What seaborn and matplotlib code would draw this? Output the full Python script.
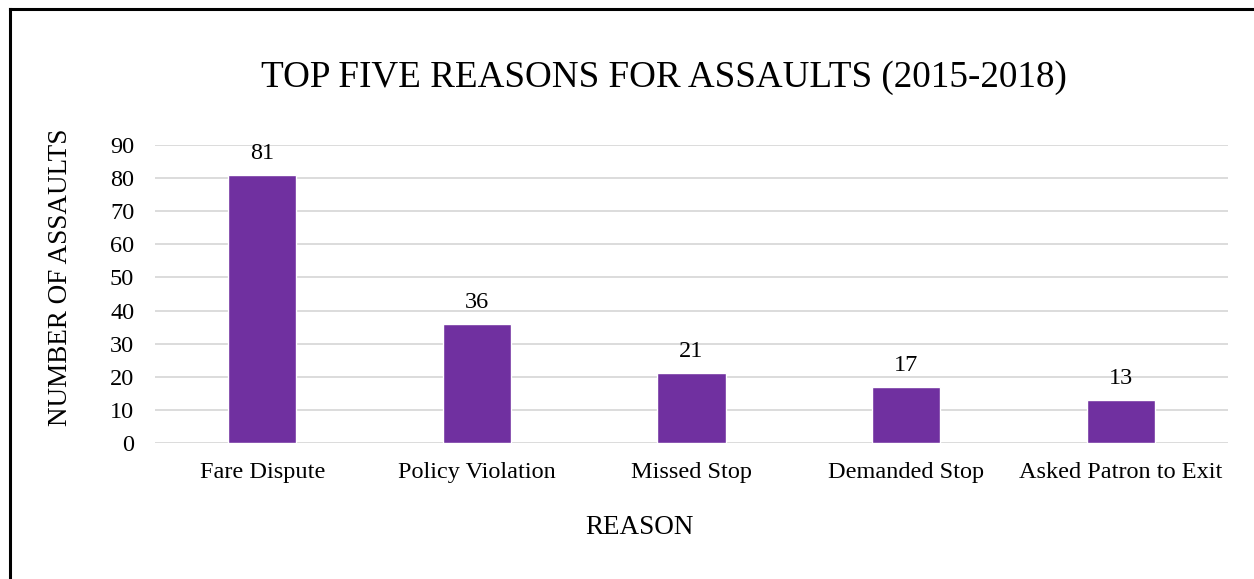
import matplotlib
matplotlib.use("Agg")
import matplotlib.pyplot as plt
import seaborn as sns
import pandas as pd
from matplotlib.lines import Line2D

reasons = ["Fare Dispute", "Policy Violation", "Missed Stop", "Demanded Stop", "Asked Patron to Exit"]
assaults = [81, 36, 21, 17, 13]
yticks = [0, 10, 20, 30, 40, 50, 60, 70, 80, 90]

sns.set_theme(style="white")
plt.rcParams['font.family'] = ['Liberation Serif', 'DejaVu Serif']

df = pd.DataFrame({"reason": reasons, "count": assaults})

fig = plt.figure(figsize=(12.54, 5.79), dpi=100)
ax = fig.add_axes([155/1254, 1 - 443/579, (1228-155)/1254, (443-145)/579])

sns.barplot(data=df, x="reason", y="count", color="#7030A0", width=0.317,
            saturation=1, ax=ax, zorder=3)

ax.set_ylim(0, 90)
ax.set_yticks(yticks)
ax.set_xlim(-0.5, len(reasons) - 0.5)
ax.yaxis.grid(True, color="#D9D9D9", linewidth=1.3, zorder=0)
ax.xaxis.grid(False)
ax.set_axisbelow(True)
for s in ax.spines.values():
    s.set_visible(False)
ax.tick_params(axis="y", length=0, pad=15, labelsize=17.5, labelcolor="black")
ax.tick_params(axis="x", length=0, pad=14, labelsize=17.5, labelcolor="black")
ax.set_xlabel("")
ax.set_ylabel("")

for c in ax.containers:
    ax.bar_label(c, labels=[str(v) for v in assaults], padding=8, fontsize=17.5, color="black")

fig.text(664/1254, 1 - 78/579, "TOP FIVE REASONS FOR ASSAULTS (2015-2018)",
         ha="center", va="center", fontsize=26.7, color="black")
fig.text(61/1254, 1 - 277/579, "NUMBER OF ASSAULTS", rotation=90,
         ha="center", va="center", fontsize=19.5, color="black")
fig.text(639/1254, 1 - 528/579, "REASON", ha="center", va="center",
         fontsize=19.5, color="black")

fig.lines.append(Line2D([10/1254, 10/1254], [0, 1 - 8.5/579], transform=fig.transFigure,
                        color="black", linewidth=2.2, solid_capstyle="projecting"))
fig.lines.append(Line2D([10/1254, 1], [1 - 8.5/579, 1 - 8.5/579], transform=fig.transFigure,
                        color="black", linewidth=2.2, solid_capstyle="projecting"))

fig.savefig("out.png", dpi=100, facecolor="white")
